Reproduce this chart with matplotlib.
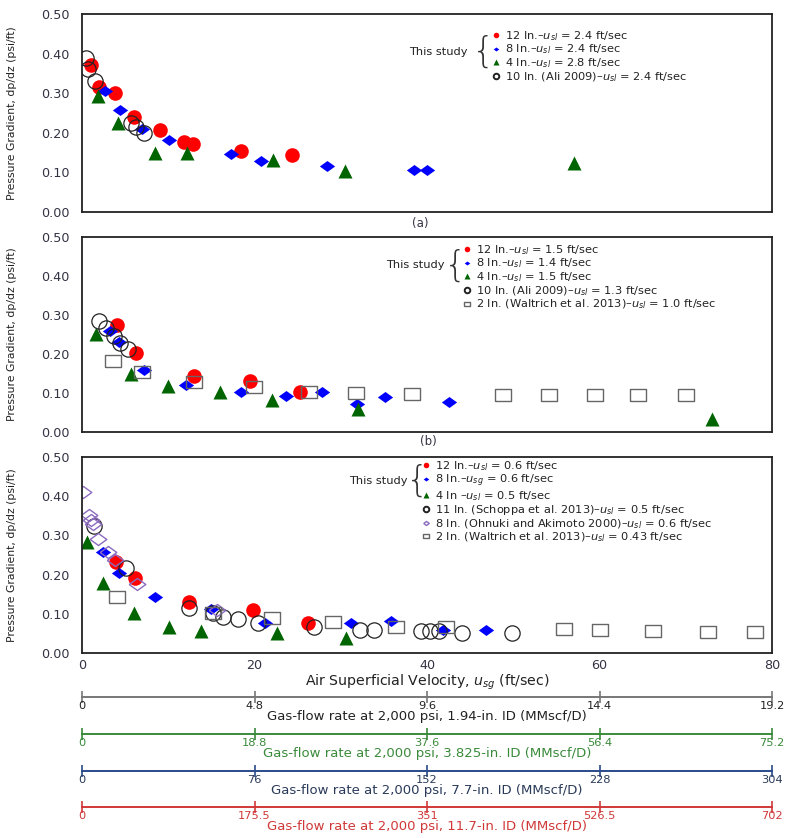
import numpy as np
import matplotlib
matplotlib.use('Agg')
import matplotlib.pyplot as plt
from matplotlib.lines import Line2D

plt.rcParams['font.family'] = ['DejaVu Sans']
plt.rcParams['mathtext.fontset'] = 'dejavusans'

# ---------------- data (ft/sec, psi/ft) ----------------
# panel (a)
a_12_x = [1.0, 2.0, 3.8, 6.0, 9.0, 11.8, 12.9, 18.4, 24.4]
a_12_y = [0.37, 0.315, 0.30, 0.24, 0.207, 0.177, 0.172, 0.154, 0.143]
a_8_x = [2.7, 4.4, 6.9, 10.1, 17.3, 20.7, 28.4, 38.5, 40.0]
a_8_y = [0.306, 0.258, 0.21, 0.182, 0.146, 0.129, 0.116, 0.106, 0.106]
a_4_x = [1.8, 4.2, 8.5, 12.2, 22.2, 30.5, 57.1]
a_4_y = [0.293, 0.225, 0.149, 0.149, 0.131, 0.104, 0.124]
a_10_x = [0.47, 0.7, 1.5, 5.7, 6.3, 7.2]
a_10_y = [0.39, 0.36, 0.33, 0.225, 0.215, 0.20]

# panel (b)
b_12_x = [4.0, 6.3, 13.0, 19.5, 25.3]
b_12_y = [0.274, 0.203, 0.144, 0.131, 0.103]
b_8_x = [3.2, 4.3, 7.2, 12.1, 18.4, 23.6, 27.8, 31.9, 35.1, 42.5]
b_8_y = [0.26, 0.23, 0.16, 0.12, 0.103, 0.092, 0.103, 0.072, 0.09, 0.077]
b_4_x = [1.6, 5.7, 10.0, 16.0, 22.0, 32.0, 73.1]
b_4_y = [0.251, 0.149, 0.118, 0.103, 0.082, 0.059, 0.033]
b_10_x = [2.0, 2.8, 3.7, 4.4, 5.3]
b_10_y = [0.285, 0.267, 0.246, 0.228, 0.213]
b_2_x = [3.6, 6.9, 13.0, 19.9, 26.3, 31.8, 38.3, 48.8, 54.1, 59.5, 64.5, 70.0]
b_2_y = [0.182, 0.154, 0.128, 0.115, 0.103, 0.10, 0.097, 0.095, 0.095, 0.095, 0.095, 0.095]

# panel (c)
c_12_x = [3.9, 6.1, 12.4, 19.8, 26.2]
c_12_y = [0.233, 0.191, 0.131, 0.109, 0.077]
c_8_x = [2.4, 4.3, 8.5, 14.9, 21.2, 31.2, 35.8, 41.9, 46.8]
c_8_y = [0.258, 0.205, 0.143, 0.112, 0.076, 0.077, 0.082, 0.059, 0.059]
c_4_x = [0.6, 2.4, 6.0, 10.1, 13.8, 22.6, 30.6]
c_4_y = [0.283, 0.178, 0.102, 0.066, 0.056, 0.051, 0.038]
c_11_x = [1.4, 5.1, 12.4, 15.2, 16.3, 18.1, 20.4, 26.9, 32.2, 33.9, 39.3, 40.3, 41.4, 44.0, 49.8]
c_11_y = [0.324, 0.216, 0.114, 0.101, 0.093, 0.087, 0.077, 0.067, 0.059, 0.059, 0.055, 0.055, 0.055, 0.052, 0.05]
c_8o_x = [0.1, 0.8, 1.0, 1.3, 1.8, 3.0, 3.8, 6.4, 15.6]
c_8o_y = [0.41, 0.352, 0.34, 0.329, 0.29, 0.258, 0.236, 0.175, 0.11]
c_2_x = [4.1, 15.2, 22.0, 29.1, 36.4, 42.2, 55.9, 60.0, 66.2, 72.6, 78.0]
c_2_y = [0.143, 0.102, 0.089, 0.079, 0.066, 0.066, 0.061, 0.059, 0.056, 0.054, 0.054]

# legend labels
a_labels = ['12 In.\u2013$u_{sl}$ = 2.4 ft/sec', '8 In.\u2013$u_{sl}$ = 2.4 ft/sec',
            '4 In.\u2013$u_{sl}$ = 2.8 ft/sec', '10 In. (Ali 2009)\u2013$u_{sl}$ = 2.4 ft/sec']
b_labels = ['12 In.\u2013$u_{sl}$ = 1.5 ft/sec', '8 In.\u2013$u_{sl}$ = 1.4 ft/sec',
            '4 In.\u2013$u_{sl}$ = 1.5 ft/sec', '10 In. (Ali 2009)\u2013$u_{sl}$ = 1.3 ft/sec',
            '2 In. (Waltrich et al. 2013)\u2013$u_{sl}$ = 1.0 ft/sec']
c_labels = ['12 In.\u2013$u_{sl}$ = 0.6 ft/sec', '8 In.\u2013$u_{sg}$ = 0.6 ft/sec',
            '4 In \u2013$u_{sl}$ = 0.5 ft/sec', '11 In. (Schoppa et al. 2013)\u2013$u_{sl}$ = 0.5 ft/sec',
            '8 In. (Ohnuki and Akimoto 2000)\u2013$u_{sl}$ = 0.6 ft/sec',
            '2 In. (Waltrich et al. 2013)\u2013$u_{sl}$ = 0.43 ft/sec']

# secondary axes (same 0-80 ft/sec span)
v_ticks = [0, 20, 40, 60, 80]
sec_labels = [['0', '4.8', '9.6', '14.4', '19.2'],
              ['0', '18.8', '37.6', '56.4', '75.2'],
              ['0', '76', '152', '228', '304'],
              ['0', '175.5', '351', '526.5', '702']]
sec_titles = ['Gas-flow rate at 2,000 psi, 1.94-in. ID (MMscf/D)',
              'Gas-flow rate at 2,000 psi, 3.825-in. ID (MMscf/D)',
              'Gas-flow rate at 2,000 psi, 7.7-in. ID (MMscf/D)',
              'Gas-flow rate at 2,000 psi, 11.7-in. ID (MMscf/D)']
y_ticks = [0.0, 0.1, 0.2, 0.3, 0.4, 0.5]

# ---------------- styles ----------------
flat_d = [(-1, 0), (0, 0.72), (1, 0), (0, -0.72), (-1, 0)]
rect = [(-1, -0.75), (1, -0.75), (1, 0.75), (-1, 0.75), (-1, -0.75)]
st = {
    'r': dict(marker='o', color='#ff0000', ms=10.5, mec='none', ls='none'),
    'b': dict(marker=flat_d, color='#0000ff', ms=11, mec='none', ls='none'),
    'g': dict(marker='^', color='#006400', ms=10.5, mec='none', ls='none'),
    'k': dict(marker='o', mfc='none', mec='#222222', ms=11, mew=0.9, ls='none'),
    's': dict(marker=rect, mfc='none', mec='#666666', ms=12, mew=1.0, ls='none'),
    'p': dict(marker=flat_d, mfc='none', mec='#8c6bbf', ms=12, mew=1.0, ls='none'),
}
FS = 8.2


def leg_handle(key):
    kw = dict(st[key])
    kw['ms'] = 4
    if key == 'k':
        kw['mew'] = 1.4
    return Line2D([], [], **kw)


W = 791.0
H = 838.0
L = 82 / W
AW = 690 / W


def make_panel(top, bottom):
    ax = fig.add_axes([L, 1 - bottom / H, AW, (bottom - top) / H])
    ax.set_xlim(0, 80)
    ax.set_ylim(0, 0.5)
    ax.set_yticks(y_ticks)
    ax.set_yticklabels(['%.2f' % t for t in y_ticks])
    ax.tick_params(length=0, labelsize=9.2, colors='#333344', pad=9)
    for s in ax.spines.values():
        s.set_linewidth(1.3)
        s.set_color('#222222')
    ax.set_ylabel('Pressure Gradient, dp/dz (psi/ft)', fontsize=7.8, color='#222222')
    ax.yaxis.set_label_coords(-0.094, 0.5)
    return ax


def add_legend(ax, keys, labels, lx, ly, sx, sy, bx):
    h = [leg_handle(k) for k in keys]
    ax.legend(h, labels, loc='upper left', bbox_to_anchor=(lx, ly), frameon=False,
              fontsize=FS, handlelength=0.7, handletextpad=0.45, labelspacing=0.0,
              borderpad=0, borderaxespad=0, labelcolor='#222222')
    ax.text(sx, sy, 'This study', transform=ax.transAxes, ha='right', va='center',
            fontsize=FS, color='#222222')
    ax.text(bx, sy, '{', transform=ax.transAxes, ha='center', va='center',
            fontsize=26, color='#333333', fontweight='light')


fig = plt.figure(figsize=(W / 100, H / 100), dpi=100)

# (a)
ax = make_panel(14, 212)
ax.plot(a_12_x, a_12_y, **st['r'])
ax.plot(a_8_x, a_8_y, **st['b'])
ax.plot(a_4_x, a_4_y, **st['g'])
ax.plot(a_10_x, a_10_y, **st['k'])
ax.set_xticks([])
add_legend(ax, ['r', 'b', 'g', 'k'], a_labels, 0.594, 0.925, 0.559, 0.81, 0.581)
fig.text(420 / W, 1 - 224 / H, '(a)', ha='center', va='center', fontsize=8.5, color='#333344')

# (b)
ax = make_panel(237, 432)
ax.plot(b_12_x, b_12_y, **st['r'])
ax.plot(b_8_x, b_8_y, **st['b'])
ax.plot(b_4_x, b_4_y, **st['g'])
ax.plot(b_10_x, b_10_y, **st['k'])
ax.plot(b_2_x, b_2_y, **st['s'])
ax.set_xticks([])
add_legend(ax, ['r', 'b', 'g', 'k', 's'], b_labels, 0.552, 0.97, 0.526, 0.855, 0.541)
fig.text(428 / W, 1 - 442 / H, '(b)', ha='center', va='center', fontsize=8.5, color='#333344')

# (c)
ax = make_panel(457, 653)
ax.plot(c_12_x, c_12_y, **st['r'])
ax.plot(c_8_x, c_8_y, **st['b'])
ax.plot(c_4_x, c_4_y, **st['g'])
ax.plot(c_11_x, c_11_y, **st['k'])
ax.plot(c_8o_x, c_8o_y, **st['p'])
ax.plot(c_2_x, c_2_y, **st['s'])
ax.set_xticks(v_ticks)
ax.tick_params(axis='x', pad=4)
ax.set_xlabel('Air Superficial Velocity, $u_{sg}$ (ft/sec)', fontsize=10.2, color='#222222', labelpad=1)
add_legend(ax, ['r', 'b', 'g', 'k', 'p', 's'], c_labels, 0.493, 0.99, 0.472, 0.878, 0.486)

# secondary scales
line_y = [697, 734, 771, 807]
line_c = ['#777777', '#3a8a3a', '#2a4a8a', '#d03838']
text_c = ['#222222', '#3a8a3a', '#2a3a5a', '#d03838']
for yy, lc, tc, labs, ttl in zip(line_y, line_c, text_c, sec_labels, sec_titles):
    sx = fig.add_axes([L, 1 - yy / H, AW, 0.0001])
    sx.set_xlim(0, 80)
    sx.set_yticks([])
    for k in ('top', 'left', 'right'):
        sx.spines[k].set_visible(False)
    sx.spines['bottom'].set_color(lc)
    sx.spines['bottom'].set_linewidth(1.4)
    sx.patch.set_visible(False)
    sx.set_xticks(v_ticks)
    sx.set_xticklabels(labs)
    sx.tick_params(axis='x', direction='inout', length=8, width=1.2, color=lc,
                   labelcolor=tc, labelsize=8.2, pad=-1)
    sx.set_xlabel(ttl, fontsize=9.5, color=tc, labelpad=-1)

fig.savefig('out.png', dpi=100)
